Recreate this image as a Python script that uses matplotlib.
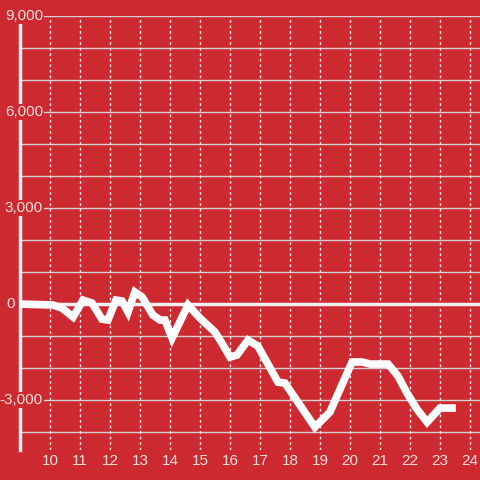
import matplotlib
matplotlib.use("Agg")
import matplotlib.pyplot as plt
import matplotlib.transforms as mtransforms

plt.rcParams['font.family'] = ['Liberation Sans', 'DejaVu Sans']

# hour of day vs. value
hours = [9.0, 10.1, 10.4, 10.77, 11.1, 11.4, 11.73, 11.93, 12.2, 12.4, 12.6, 12.83,
         13.07, 13.43, 13.67, 13.83, 14.07, 14.6, 15.0, 15.5, 15.73, 16.0, 16.23,
         16.6, 16.93, 17.6, 17.83, 18.83, 19.33, 20.07, 20.4, 20.67, 21.27, 21.6,
         21.9, 22.23, 22.57, 23.0, 23.4]
values = [0, -30, -125, -405, 125, 30, -470, -500, 125, 95, -250, 375,
          220, -345, -500, -500, -1060, -30, -440, -875, -1220, -1655, -1595,
          -1125, -1315, -2440, -2470, -3845, -3375, -1810, -1810, -1875, -1875, -2250,
          -2780, -3280, -3690, -3250, -3250]

x_ticks = list(range(10, 25))
y_labels = [9000, 6000, 3000, 0, -3000]
y_grid = list(range(-4000, 9001, 1000))

bg = '#cc2a30'
txt = '#f3dede'

fig = plt.figure(figsize=(4.8, 4.8), dpi=100, facecolor=bg)
ax = fig.add_axes([20/480, 30/480, 460/480, 434/480])
ax.set_facecolor(bg)

ax.set_xlim(9, 9 + 460/30)
ax.set_ylim(-4560, 9000)

# grid
for g in y_grid:
    ax.axhline(g, color='#d8d0d0', lw=1, zorder=1)
for t in x_ticks:
    ax.axvline(t, color='#f0e6e6', lw=1, ls=(0, (2, 2)), zorder=1)
ax.axhline(0, color='#f5f0f0', lw=2.5, zorder=2)

ax.plot(hours, values, color='white', lw=5.5, solid_joinstyle='miter', zorder=6)

for s in ['top', 'right', 'bottom']:
    ax.spines[s].set_visible(False)
ax.spines['left'].set_color('#f5f0f0')
ax.spines['left'].set_linewidth(2.5)

ax.set_xticks([])
ax.set_yticks([])

# x labels
for t in x_ticks:
    ax.text(t, -4900, str(t), ha='center', va='center', color=txt, fontsize=11,
            clip_on=False)

# y labels with background covering axis
trans = mtransforms.blended_transform_factory(ax.transAxes, ax.transData)
for v in y_labels:
    xpos = -5/460 if v == 0 else 23/460
    ax.text(xpos, v, f"{v:,}", ha='right', va='center', color=txt, fontsize=11,
            transform=trans, clip_on=False, zorder=5,
            bbox=dict(facecolor=bg, edgecolor='none', pad=1))

fig.savefig('out.png', dpi=100, facecolor=bg)
